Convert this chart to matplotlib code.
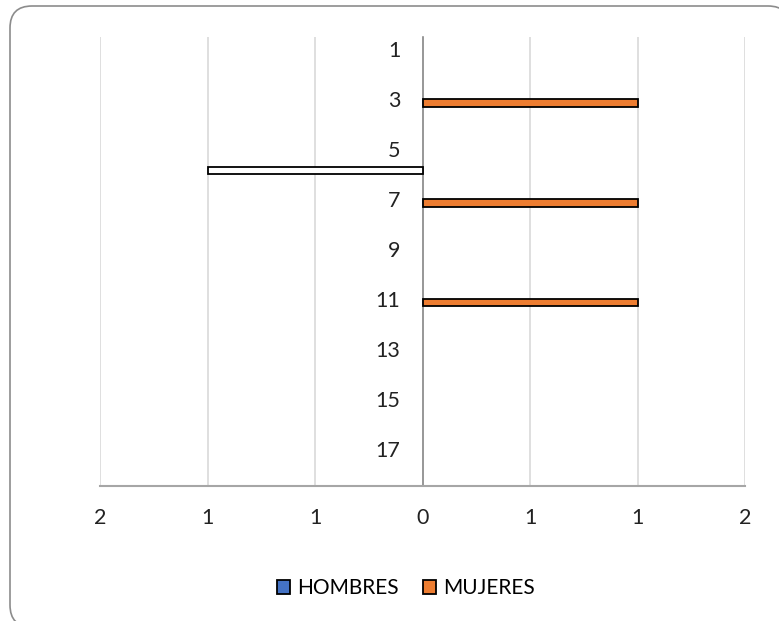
import matplotlib.pyplot as plt
from matplotlib.patches import FancyBboxPatch, Patch

# age groups and head counts per sex
grupos = list(range(1, 19))
hombres = [0, 0, 0, 0, 0, 1, 0, 0, 0, 0, 0, 0, 0, 0, 0, 0, 0, 0]
mujeres = [0, 0, 1, 0, 0, 0, 1, 0, 0, 0, 1, 0, 0, 0, 0, 0, 0, 0]
x_ticks = [-1.5, -1.0, -0.5, 0, 0.5, 1.0, 1.5]
x_labels = ["2", "1", "1", "0", "1", "1", "2"]

AZUL = "#4472C4"
NARANJA = "#ED7D31"

plt.rcParams['font.family'] = ['Lato', 'DejaVu Sans']

fig = plt.figure(figsize=(7.79, 6.21), dpi=100)
W, H = 779, 621

# rounded chart border (runs off the right and bottom edges)
frame = FancyBboxPatch((0.10, -0.06), 7.80, 6.21,
                       boxstyle="round,pad=0,rounding_size=0.22",
                       transform=fig.dpi_scale_trans, facecolor="white",
                       edgecolor="#8C8C8C", linewidth=1.2, zorder=-10)
fig.patches.append(frame)

ax = fig.add_axes([100 / W, 1 - 486 / H, 645 / W, 449 / H])
ax.set_facecolor("none")

h = 0.3
for i, g in enumerate(grupos):
    if hombres[i]:
        ax.barh(g - h / 2, -hombres[i], height=h, color="white",
                edgecolor="black", linewidth=1.3, zorder=3)
    if mujeres[i]:
        ax.barh(g + h / 2, mujeres[i], height=h, color=NARANJA,
                edgecolor="black", linewidth=1.3, zorder=3)

ax.set_xlim(-1.5, 1.5)
ax.set_ylim(18.5, 0.5)
ax.set_xticks(x_ticks)
ax.set_xticklabels(x_labels)
ax.set_yticks(grupos[::2])
ax.set_yticklabels([str(g) for g in grupos[::2]])

ax.grid(axis="x", color="#D9D9D9", linewidth=1.2, zorder=0)
ax.set_axisbelow(True)

for s in ["top", "right"]:
    ax.spines[s].set_visible(False)
ax.spines["left"].set_position(("data", 0))
ax.spines["left"].set_color("#8C8C8C")
ax.spines["left"].set_linewidth(1.2)
ax.spines["bottom"].set_color("#A6A6A6")
ax.spines["bottom"].set_linewidth(1.5)

ax.tick_params(axis="y", length=0, pad=16, labelsize=15.5, labelcolor="#222222")
ax.tick_params(axis="x", length=0, pad=16, labelsize=15.5, labelcolor="#222222")

handles = [Patch(facecolor=AZUL, edgecolor="black", linewidth=1.3, label="HOMBRES"),
           Patch(facecolor=NARANJA, edgecolor="black", linewidth=1.3, label="MUJERES")]
fig.legend(handles=handles, loc="center", bbox_to_anchor=(406 / W, 1 - 588 / H),
           ncol=2, frameon=False,
           prop={'family': ['Liberation Sans Narrow', 'Lato'], 'size': 15},
           handlelength=0.65, handleheight=0.65, handletextpad=0.33,
           columnspacing=1.15, borderpad=0)

fig.savefig("out.png", dpi=100)
